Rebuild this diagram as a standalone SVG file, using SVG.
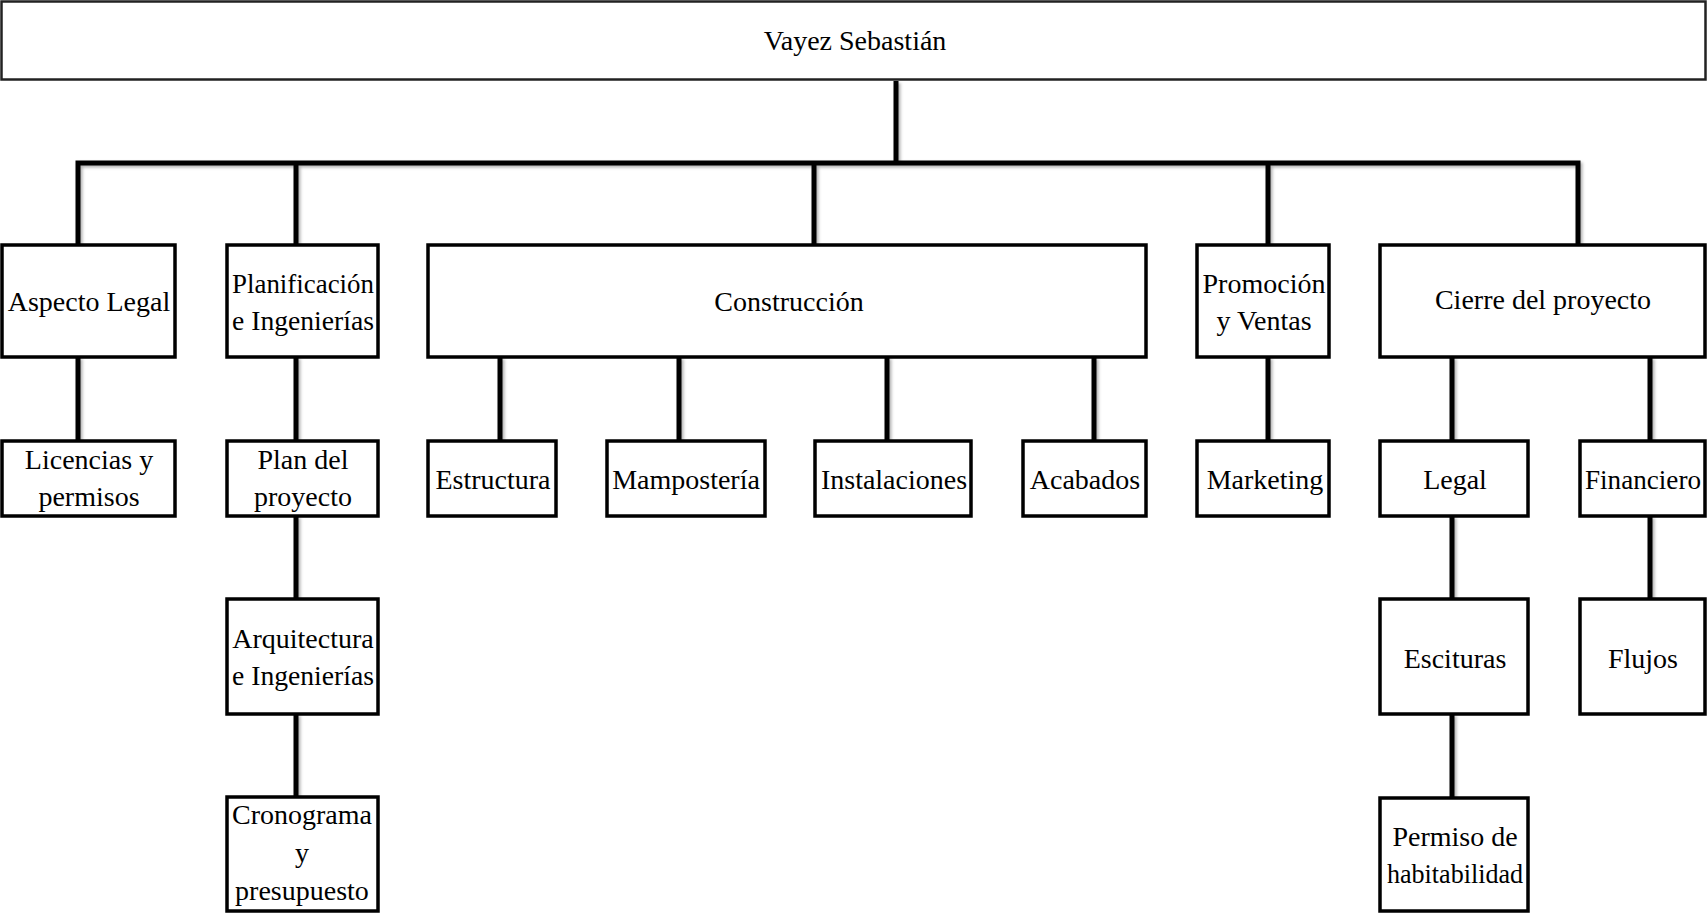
<svg xmlns="http://www.w3.org/2000/svg" width="1708" height="915" viewBox="0 0 1708 915">
  <style>
    .box { fill: #ffffff; stroke: #000000; stroke-width: 3.5; }
    .root { fill: #ffffff; stroke: #222222; stroke-width: 2.5; }
    .lbl { font-family: "Liberation Serif", "Times New Roman", serif; font-size: 28px; fill: #000000; text-anchor: middle; }
    .wire { fill: none; stroke: #000000; stroke-width: 5; stroke-linejoin: miter; stroke-linecap: butt; }
  </style>
  <defs>
    <filter id="soft-shadow" x="-5%" y="-5%" width="110%" height="110%">
      <feDropShadow dx="2" dy="2" stdDeviation="1.5" flood-color="#000000" flood-opacity="0.3"/>
    </filter>
  </defs>
  <rect width="1708" height="915" fill="#ffffff"/>

  <!-- connectors -->
  <g id="connectors" class="wire" filter="url(#soft-shadow)">
    <path d="M896,81 V163"/>
    <path d="M78,245 V163 H1578 V245"/>
    <path d="M296,163 V245"/>
    <path d="M814,163 V245"/>
    <path d="M1268,163 V245"/>
    <path d="M78,357 V441"/>
    <path d="M296,357 V441"/>
    <path d="M296,516 V599"/>
    <path d="M296,714 V797"/>
    <path d="M500,357 V441"/>
    <path d="M679,357 V441"/>
    <path d="M887,357 V441"/>
    <path d="M1094,357 V441"/>
    <path d="M1268,357 V441"/>
    <path d="M1452,357 V441"/>
    <path d="M1650,357 V441"/>
    <path d="M1452,516 V599"/>
    <path d="M1452,714 V798"/>
    <path d="M1650,516 V599"/>
  </g>

  <g id="n-root">
    <rect class="root" x="1.5" y="1.5" width="1704" height="78"/>
    <text class="lbl" x="855" y="50">Vayez Sebastián</text>
  </g>

  <g id="n-aspecto-legal">
    <rect class="box" x="2" y="245" width="173" height="112"/>
    <text class="lbl" x="89" y="311">Aspecto Legal</text>
  </g>
  <g id="n-planificacion">
    <rect class="box" x="227" y="245" width="151" height="112"/>
    <text class="lbl" x="303" y="293" textLength="142" lengthAdjust="spacingAndGlyphs">Planificación</text>
    <text class="lbl" x="303" y="330" textLength="142" lengthAdjust="spacingAndGlyphs">e Ingenierías</text>
  </g>
  <g id="n-construccion">
    <rect class="box" x="428" y="245" width="718" height="112"/>
    <text class="lbl" x="789" y="311">Construcción</text>
  </g>
  <g id="n-promocion">
    <rect class="box" x="1197" y="245" width="132" height="112"/>
    <text class="lbl" x="1264" y="293">Promoción</text>
    <text class="lbl" x="1264" y="330">y Ventas</text>
  </g>
  <g id="n-cierre">
    <rect class="box" x="1380" y="245" width="325" height="112"/>
    <text class="lbl" x="1543" y="309">Cierre del proyecto</text>
  </g>

  <g id="n-licencias">
    <rect class="box" x="2" y="441" width="173" height="75"/>
    <text class="lbl" x="89" y="469">Licencias y</text>
    <text class="lbl" x="89" y="506">permisos</text>
  </g>
  <g id="n-plan">
    <rect class="box" x="227" y="441" width="151" height="75"/>
    <text class="lbl" x="303" y="469">Plan del</text>
    <text class="lbl" x="303" y="506">proyecto</text>
  </g>
  <g id="n-arquitectura">
    <rect class="box" x="227" y="599" width="151" height="115"/>
    <text class="lbl" x="303" y="648">Arquitectura</text>
    <text class="lbl" x="303" y="685" textLength="142" lengthAdjust="spacingAndGlyphs">e Ingenierías</text>
  </g>
  <g id="n-cronograma">
    <rect class="box" x="227" y="797" width="151" height="114"/>
    <text class="lbl" x="302" y="824">Cronograma</text>
    <text class="lbl" x="302" y="862">y</text>
    <text class="lbl" x="302" y="900">presupuesto</text>
  </g>

  <g id="n-estructura">
    <rect class="box" x="428" y="441" width="128" height="75"/>
    <text class="lbl" x="493" y="489">Estructura</text>
  </g>
  <g id="n-mamposteria">
    <rect class="box" x="607" y="441" width="158" height="75"/>
    <text class="lbl" x="686" y="489">Mampostería</text>
  </g>
  <g id="n-instalaciones">
    <rect class="box" x="815" y="441" width="156" height="75"/>
    <text class="lbl" x="894" y="489">Instalaciones</text>
  </g>
  <g id="n-acabados">
    <rect class="box" x="1023" y="441" width="123" height="75"/>
    <text class="lbl" x="1085" y="489">Acabados</text>
  </g>

  <g id="n-marketing">
    <rect class="box" x="1197" y="441" width="132" height="75"/>
    <text class="lbl" x="1265" y="489">Marketing</text>
  </g>
  <g id="n-legal">
    <rect class="box" x="1380" y="441" width="148" height="75"/>
    <text class="lbl" x="1455" y="489">Legal</text>
  </g>
  <g id="n-financiero">
    <rect class="box" x="1580" y="441" width="125" height="75"/>
    <text class="lbl" x="1643" y="489" textLength="116" lengthAdjust="spacingAndGlyphs">Financiero</text>
  </g>
  <g id="n-escituras">
    <rect class="box" x="1380" y="599" width="148" height="115"/>
    <text class="lbl" x="1455" y="668">Escituras</text>
  </g>
  <g id="n-flujos">
    <rect class="box" x="1580" y="599" width="125" height="115"/>
    <text class="lbl" x="1643" y="668">Flujos</text>
  </g>
  <g id="n-permiso">
    <rect class="box" x="1380" y="798" width="148" height="113"/>
    <text class="lbl" x="1455" y="846">Permiso de</text>
    <text class="lbl" x="1455" y="883" textLength="136" lengthAdjust="spacingAndGlyphs">habitabilidad</text>
  </g>
</svg>
